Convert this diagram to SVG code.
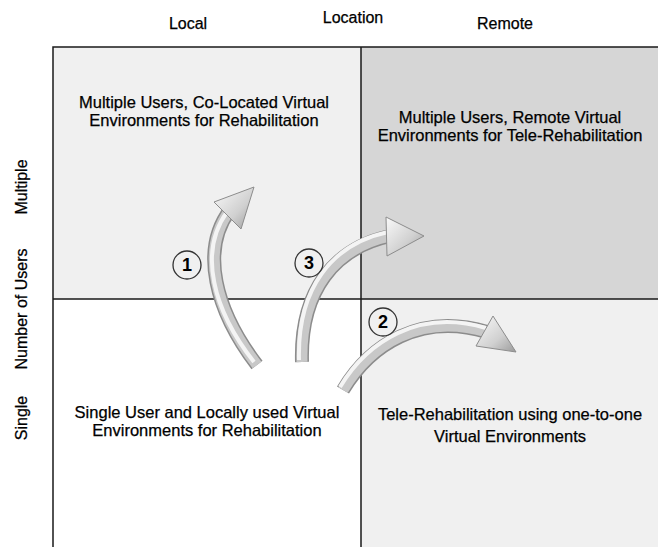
<svg xmlns="http://www.w3.org/2000/svg" width="658" height="547" viewBox="0 0 658 547">
<defs>
<style>
text{font-family:"Liberation Sans",Arial,sans-serif;fill:#000;stroke:#000;stroke-width:0.25;}
.hdr{font-size:16px;text-anchor:middle;}
.lbl{font-size:16.5px;text-anchor:middle;}
.num{font-size:18px;font-weight:bold;text-anchor:middle;stroke-width:0;}
.grid{stroke:#1a1a1a;stroke-width:1.5;fill:none;}
.t1{fill:none;stroke:#8c8c8c;stroke-width:14;stroke-linecap:butt;}
.t2{fill:none;stroke:#c8c8c8;stroke-width:11;stroke-linecap:butt;}
.t3{fill:none;stroke:#f4f4f4;stroke-width:4;stroke-linecap:butt;}
.head{fill:url(#hg);stroke:#8c8c8c;stroke-width:1;stroke-linejoin:round;}
.circ{fill:none;stroke:#333;stroke-width:1.3;}
</style>
<linearGradient id="hg" x1="0" y1="0" x2="1" y2="1">
<stop offset="0" stop-color="#fafafa"/>
<stop offset="0.6" stop-color="#d0d0d0"/>
<stop offset="1" stop-color="#9a9a9a"/>
</linearGradient>
</defs>
<rect width="658" height="547" fill="#fff"/>
<g id="headers">
<text class="hdr" x="188" y="29">Local</text>
<text class="hdr" x="353" y="23">Location</text>
<text class="hdr" x="505" y="29">Remote</text>
<text class="hdr" transform="translate(27,187) rotate(-90)">Multiple</text>
<text class="hdr" transform="translate(27,309) rotate(-90)">Number of Users</text>
<text class="hdr" transform="translate(27,418) rotate(-90)">Single</text>
</g>
<g id="q-multi-local">
<rect x="53" y="47" width="308" height="252" fill="#f0f0f0"/>
<text class="lbl" x="204" y="108">Multiple Users, Co-Located Virtual</text>
<text class="lbl" x="204" y="126">Environments for Rehabilitation</text>
</g>
<g id="q-multi-remote">
<rect x="361" y="47" width="297" height="252" fill="#d6d6d6"/>
<text class="lbl" x="510" y="123">Multiple Users, Remote Virtual</text>
<text class="lbl" x="510" y="141">Environments for Tele-Rehabilitation</text>
</g>
<g id="q-single-local">
<rect x="53" y="299" width="308" height="248" fill="#ffffff"/>
<text class="lbl" x="207" y="418">Single User and Locally used Virtual</text>
<text class="lbl" x="207" y="436">Environments for Rehabilitation</text>
</g>
<g id="q-single-remote">
<rect x="361" y="299" width="297" height="248" fill="#f0f0f0"/>
<text class="lbl" x="510" y="420">Tele-Rehabilitation using one-to-one</text>
<text class="lbl" x="510" y="442">Virtual Environments</text>
</g>
<g id="grid">
<path class="grid" d="M658,47 H53 V547 M361,47 V547 M53,299 H658"/>
</g>
<g id="connectors">
<g id="arrow1">
<path class="t1" d="M257,365 C215,310 200,250 230,210"/>
<path class="t2" d="M257,365 C215,310 200,250 230,210"/>
<path class="t3" d="M254,362 C213,310 198,252 227,212"/>
<polygon class="head" points="254,187 214,202 241,229"/>
</g>
<g id="arrow3">
<path class="t1" d="M302,362 C300,290 335,248 390,236"/>
<path class="t2" d="M302,362 C300,290 335,248 390,236"/>
<path class="t3" d="M299,360 C297,288 332,244 388,232"/>
<polygon class="head" points="424,236 386,217 387,256"/>
</g>
<g id="arrow2">
<path class="t1" d="M343,390 C370,345 420,312 487,332"/>
<path class="t2" d="M343,390 C370,345 420,312 487,332"/>
<path class="t3" d="M340,387 C367,342 418,308 486,328"/>
<polygon class="head" points="516,352 493,316 476,346"/>
</g>
</g>
<g id="badges">
<circle class="circ" cx="187" cy="265" r="14"/>
<text class="num" x="187" y="271">1</text>
<circle class="circ" cx="309" cy="263" r="14"/>
<text class="num" x="309" y="269">3</text>
<circle class="circ" cx="383" cy="322" r="14"/>
<text class="num" x="383" y="328">2</text>
</g>
</svg>
